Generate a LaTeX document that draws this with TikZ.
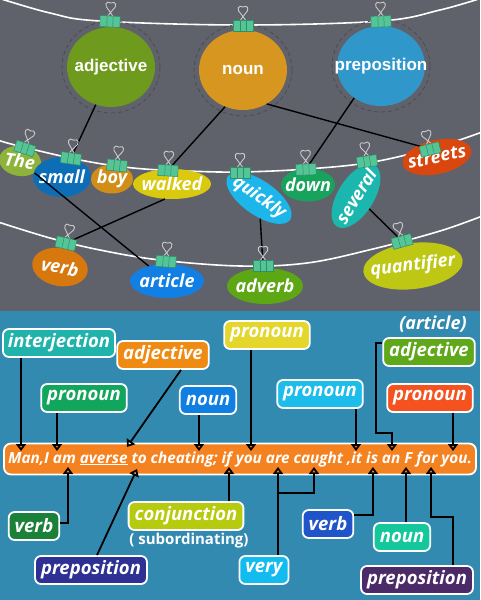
\documentclass[tikz,border=0pt]{standalone}
\usepackage{fontspec}
\usetikzlibrary{shapes.geometric, arrows.meta}

\newfontfamily\sansfont{Open Sans}
\newfontfamily\ballfont{Liberation Sans}
\newcommand{\nowid}[1]{\makebox[0pt]{#1}}

\definecolor{topgray}{HTML}{60626B}
\definecolor{seablue}{HTML}{328AB0}
\definecolor{ringgray}{HTML}{4A4B52}
\definecolor{clipgreen}{HTML}{55C496}
\definecolor{clipdark}{HTML}{2F8F66}
\definecolor{wiregray}{HTML}{C9C9CC}
% top circles
\definecolor{adjgreen}{HTML}{6E9A1E}
\definecolor{nounorange}{HTML}{D6961F}
\definecolor{prepblue}{HTML}{3097CB}
% words on the lines
\definecolor{thegreen}{HTML}{8DB33A}
\definecolor{smallblue}{HTML}{0C6EB6}
\definecolor{boyochre}{HTML}{D08E19}
\definecolor{walkedyellow}{HTML}{D9C90F}
\definecolor{quickcyan}{HTML}{1DB6EA}
\definecolor{downgreen}{HTML}{17A35C}
\definecolor{severalteal}{HTML}{1BB7AF}
\definecolor{streetsred}{HTML}{D9460E}
\definecolor{verborange}{HTML}{D6780E}
\definecolor{articleblue}{HTML}{117FE3}
\definecolor{adverbgreen}{HTML}{5DA715}
\definecolor{quantlime}{HTML}{BDC714}
% tags
\definecolor{interjteal}{HTML}{20B3AB}
\definecolor{tagorange}{HTML}{EF8A13}
\definecolor{taggreen}{HTML}{12A65D}
\definecolor{tagblue}{HTML}{0F7FE3}
\definecolor{tagyellow}{HTML}{E4D62A}
\definecolor{tagcyan}{HTML}{1DBDEB}
\definecolor{taglime}{HTML}{5FA81A}
\definecolor{tagred}{HTML}{F4521F}
\definecolor{barorange}{HTML}{F58220}
\definecolor{tagdkgreen}{HTML}{1B8038}
\definecolor{tagindigo}{HTML}{2E3193}
\definecolor{tagconj}{HTML}{B6CA0E}
\definecolor{tagvery}{HTML}{12BCEE}
\definecolor{tagroyal}{HTML}{1F55C8}
\definecolor{tagmint}{HTML}{14C89B}
\definecolor{tagpurple}{HTML}{4B2A67}

\begin{document}
\begin{tikzpicture}[x=1pt, y=-1pt,
    rope/.style={white, line width=1.6pt},
    ball/.style={ellipse, inner sep=0pt, text=white, minimum width=88pt, minimum height=80pt,
      font=\ballfont\bfseries\fontsize{17}{19}\selectfont},
    ring/.style={draw=ringgray, line width=0.8pt, dash pattern=on 4pt off 3pt},
    word/.style={ellipse, inner sep=0pt, text=white,
      font=\sansfont\bfseries\itshape\fontsize{18}{20}\selectfont},
    link/.style={black, line width=1.4pt},
    tag/.style={draw=white, line width=1.8pt, rounded corners=6pt, text=white,
      inner xsep=6pt, inner ysep=0pt, minimum height=28pt,
      font=\sansfont\bfseries\itshape\fontsize{18.5}{20}\selectfont},
    pointer/.style={black, line width=1.8pt, -{Triangle[open, length=7pt, width=10pt]}},
    binder/.pic={
      \draw[wiregray, line width=0.9pt] (-2.5,-5) -- (2,-11)
        .. controls (7,-15) and (5,-21) .. (0,-18)
        .. controls (-5,-21) and (-7,-15) .. (-2,-11) -- (2.5,-5);
      \filldraw[fill=clipgreen, draw=clipdark, line width=0.5pt] (-10,-5) rectangle (10,6);
      \draw[clipdark, line width=0.5pt] (-3,-5) -- (-3,6) (3,-5) -- (3,6);
    }]

  \useasboundingbox (0,0) rectangle (480,600);
  \fill[topgray] (0,0) rectangle (480,311);
  \fill[seablue] (0,311) rectangle (480,600);

  %% the three lines
  \draw[rope] plot[smooth, tension=0.6] coordinates
    {(-5,-3) (50,13) (100,21) (243,25) (381,21) (440,10) (485,-3)};
  \draw[rope] plot[smooth, tension=0.6] coordinates
    {(-5,139) (15,145) (80,160) (133,168) (187,171) (240,172) (307,169) (373,162) (440,146) (485,131)};
  \draw[rope] plot[smooth, tension=0.6] coordinates
    {(-5,221) (50,238) (100,250) (160,260) (240,266) (307,263) (373,249) (440,231) (485,215)};

  %% pegs on the lines
  \coordinate (kadj) at (110,21);
  \coordinate (knoun) at (243,25);
  \coordinate (kprep) at (381,21);
  \coordinate (kthe) at (25,148);
  \coordinate (ksmall) at (71,158);
  \coordinate (kboy) at (117,165);
  \coordinate (kwalked) at (168,170);
  \coordinate (kquickly) at (240,172);
  \coordinate (kdown) at (306,169);
  \coordinate (kseveral) at (367,161);
  \coordinate (kstreets) at (430,149);
  \coordinate (kverb) at (66,243);
  \coordinate (karticle) at (166,261);
  \coordinate (kadverb) at (263,265);
  \coordinate (kquant) at (402,241);

  %% the classes
  \node[ball, fill=adjgreen] (adj) at (111,67) {\nowid{adjective}};
  \node[ball, fill=nounorange] (noun) at (243,70) {\nowid{noun}};
  \node[ball, fill=prepblue] (prep) at (381,66) {\nowid{preposition}};
  \foreach \b in {adj, noun, prep}
    \draw[ring] (\b) ellipse [x radius=49pt, y radius=46pt];

  %% the words
  \node[word, fill=thegreen, minimum width=42pt, minimum height=30pt, rotate=-8] (the) at (20,161) {\nowid{The}};
  \node[word, fill=smallblue, minimum width=58pt, minimum height=40pt] (small) at (62,177) {\nowid{small}};
  \node[word, fill=boyochre, minimum width=42pt, minimum height=29pt] (boy) at (112,179) {\nowid{boy}};
  \node[word, fill=walkedyellow, minimum width=78pt, minimum height=30pt] (walked) at (172,184) {\nowid{walked}};
  \node[word, fill=quickcyan, minimum width=76pt, minimum height=34pt, rotate=-35] (quickly) at (259,198) {\nowid{quickly}};
  \node[word, fill=downgreen, minimum width=54pt, minimum height=33pt] (down) at (308,185) {\nowid{down}};
  \node[word, fill=severalteal, minimum width=72pt, minimum height=36pt, rotate=58] (several) at (356,196) {\nowid{several}};
  \node[word, fill=streetsred, minimum width=70pt, minimum height=34pt, rotate=12] (streets) at (437,157) {\nowid{streets}};
  \node[word, fill=verborange, minimum width=56pt, minimum height=38pt, rotate=-10] (verb) at (60,267) {\nowid{verb}};
  \node[word, fill=articleblue, minimum width=74pt, minimum height=34pt] (article) at (167,281) {\nowid{article}};
  \node[word, fill=adverbgreen, minimum width=76pt, minimum height=36pt] (adverb) at (265,286) {\nowid{adverb}};
  \node[word, fill=quantlime, minimum width=100pt, minimum height=46pt, rotate=7] (quant) at (413,266) {\nowid{quantifier}};

  %% links
  \draw[link] (adj.-112) -- (ksmall);
  \draw[link] (noun.-116) -- (kwalked);
  \draw[link] (noun.-55) -- (kstreets);
  \draw[link] (prep.-130) -- (kdown);
  \draw[link] (the) -- (article);
  \draw[link] (walked.-115) -- (kverb);
  \draw[link] (quickly) -- (kadverb);
  \draw[link] (several) -- (kquant);

  \foreach \k/\r in {kadj/-3, knoun/0, kprep/2, kthe/-18, ksmall/-8, kboy/-6, kwalked/-3,
      kquickly/0, kdown/2, kseveral/8, kstreets/14, kverb/-13, karticle/-4, kadverb/0, kquant/15}
    \pic[rotate=\r] at (\k) {binder};

  %% the sentence
  \node[draw=white, line width=1.8pt, fill=barorange, rounded corners=7pt, minimum width=472pt,
    minimum height=31pt, inner sep=0pt, text=white,
    font=\sansfont\bfseries\itshape\fontsize{15.3}{17}\selectfont] (sent) at (240,459)
    {Man,I am \underline{averse} to cheating; if you are caught ,it is an F for you.};

  %% tags above
  \node[tag, fill=interjteal, inner xsep=5pt] (interj) at (59,343) {interjection};
  \node[tag, fill=tagorange] (adjO) at (163,355) {adjective};
  \node[tag, fill=taggreen] (pronG) at (84,398) {pronoun};
  \node[tag, fill=tagblue] (nounB) at (208,400) {noun};
  \node[tag, fill=tagyellow] (pronY) at (267,335) {pronoun};
  \node[tag, fill=tagcyan] (pronC) at (320,394) {pronoun};
  \node[text=white, font=\sansfont\bfseries\itshape\fontsize{18}{20}\selectfont] (artnote) at (433,324) {(article)};
  \node[tag, fill=taglime] (adjG) at (429,352) {adjective};
  \node[tag, fill=tagred] (pronR) at (430,398) {pronoun};

  %% tags below
  \node[tag, fill=tagdkgreen] (verbG) at (34,526) {verb};
  \node[tag, fill=tagindigo] (prepI) at (91,570) {preposition};
  \node[tag, fill=tagconj] (conj) at (186,516) {conjunction};
  \node[text=white, font=\sansfont\bfseries\fontsize{15}{17}\selectfont] (subord) at (189,541) {( subordinating)};
  \node[tag, fill=tagvery] (very) at (264,570) {very};
  \node[tag, fill=tagroyal] (verbB) at (328,524) {verb};
  \node[tag, fill=tagmint] (nounT) at (402,537) {noun};
  \node[tag, fill=tagpurple] (prepP) at (417,580) {preposition};

  %% where the arrows meet the sentence
  \coordinate (tMan) at (21,451);
  \coordinate (tI) at (57,451);
  \coordinate (tAverse) at (127,447);
  \coordinate (tCheat) at (199,451);
  \coordinate (tYou) at (251,451);
  \coordinate (tIt) at (356,451);
  \coordinate (tAn) at (392,451);
  \coordinate (tYou2) at (453,451);
  \coordinate (bAm) at (68,467);
  \coordinate (bTo) at (137,469);
  \coordinate (bIf) at (229,467);
  \coordinate (bAre) at (278,467);
  \coordinate (bCaught) at (314,467);
  \coordinate (bIs) at (373,467);
  \coordinate (bF) at (406,467);
  \coordinate (bFor) at (431,467);

  \draw[pointer] (interj.south -| tMan) -- (tMan);
  \draw[pointer] (pronG.south -| tI) -- (tI);
  \draw[pointer] ([xshift=18pt]adjO.south) -- (tAverse);
  \draw[pointer] (nounB.south -| tCheat) -- (tCheat);
  \draw[pointer] (pronY.south -| tYou) -- (tYou);
  \draw[pointer] (pronC.south -| tIt) -- (tIt);
  \draw[pointer] ([yshift=9pt]adjG.west) -| (376,433) -| (tAn);
  \draw[pointer] (pronR.south -| tYou2) -- (tYou2);

  \draw[pointer] ([yshift=3pt]verbG.east) -| (bAm);
  \draw[pointer] ([xshift=6pt]prepI.north) -- (bTo);
  \draw[pointer] (conj.north -| bIf) -- (bIf);
  \draw[pointer] (very.north -| bAre) -- (bAre);
  \draw[pointer] (bAre |- 0,493) -| (bCaught);
  \draw[pointer] ([yshift=9pt]verbB.east) -| (bIs);
  \draw[pointer] (nounT.north -| bF) -- (bF);
  \draw[pointer] ([xshift=36pt]prepP.north) |- (bFor |- 0,517) -- (bFor);

\end{tikzpicture}
\end{document}
